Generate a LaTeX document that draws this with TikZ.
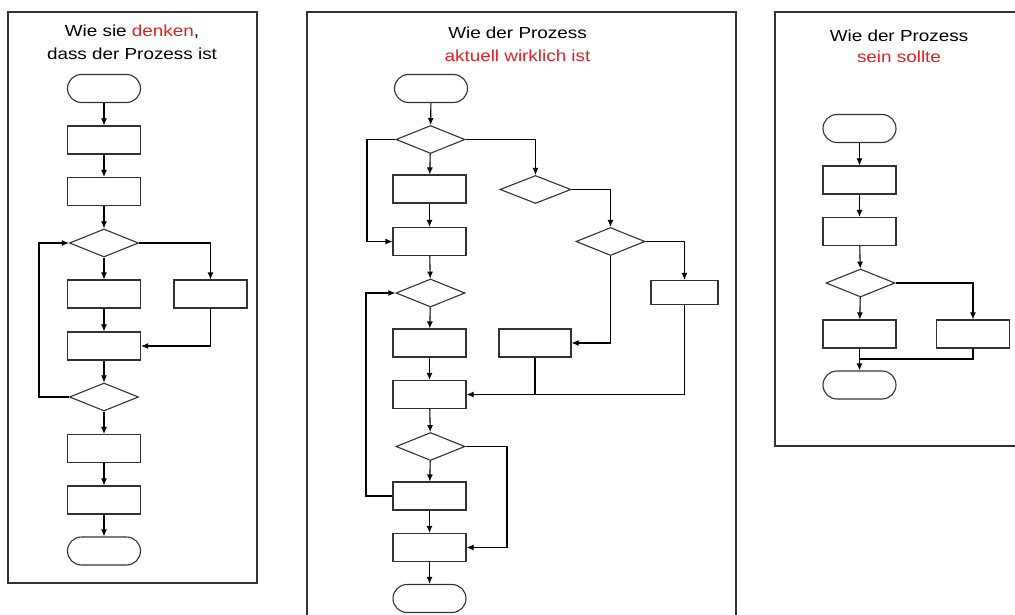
\documentclass[tikz,border=0pt]{standalone}
\usepackage{fontspec}
\setmainfont{Liberation Sans}[FakeStretch=1.18]
\usetikzlibrary{arrows.meta,shapes.geometric,shapes.misc}

\definecolor{hired}{RGB}{226,32,32}
\definecolor{lineg}{RGB}{50,50,50}

\tikzset{
    frame/.style={draw=lineg, line width=1.4pt},
    term/.style={draw=lineg, line width=1.1pt, rounded rectangle, minimum width=73pt, minimum height=28pt, inner sep=0pt},
    box/.style={draw=lineg, line width=1.1pt, rectangle, minimum width=73pt, minimum height=28pt, inner sep=0pt},
    decision/.style={draw=lineg, line width=1.1pt, diamond, minimum width=69pt, minimum height=28pt, inner sep=0pt},
    flow/.style={draw=black, line width=1.1pt, -{Latex[length=7pt,width=6pt]}},
    link/.style={draw=black, line width=1.1pt},
    heading/.style={anchor=base, font=\fontsize{16}{19}\selectfont, inner sep=0pt}
}

\begin{document}
\begin{tikzpicture}[x=1pt, y=-1pt]
    \useasboundingbox (0,0) rectangle (1015,615);

    % Frames of the three panels
    \draw[frame] (8,12) rectangle (257,583);
    \draw[frame] (307,620) -- (307,12) -- (736,12) -- (736,620);
    \draw[frame] (1020,12) -- (775,12) -- (775,446) -- (1020,446);

    % Headings
    \node[heading] (headL1) at (132,37) {Wie sie \textcolor{hired}{denken},};
    \node[heading] (headL2) at (132,60) {dass der Prozess ist};
    \node[heading] (headM1) at (517.5,39) {Wie der Prozess};
    \node[heading, text=hired] (headM2) at (517.5,62) {aktuell wirklich ist};
    \node[heading] (headR1) at (899,42) {Wie der Prozess};
    \node[heading, text=hired] (headR2) at (899,63) {sein sollte};

    % Left panel: as they think
    \node[term] (ls) at (104,88.5) {};
    \node[box] (l1) at (104,140) {};
    \node[box] (l2) at (104,191.5) {};
    \node[decision] (ld1) at (104,243) {};
    \node[box] (l3) at (104,294) {};
    \node[box] (l3r) at (210.5,294) {};
    \node[box] (l4) at (104,346) {};
    \node[decision] (ld2) at (104,397) {};
    \node[box] (l5) at (104,448.5) {};
    \node[box] (l6) at (104,500) {};
    \node[term] (le) at (104,551) {};
    \coordinate (lloop) at (39,397);

    \foreach \a/\b in {ls/l1, l1/l2, l2/ld1, ld1/l3, l3/l4, l4/ld2, ld2/l5, l5/l6, l6/le}
        \draw[flow] (\a) -- (\b);
    \draw[flow] (ld1.east) -| (l3r.north);
    \draw[flow] (l3r.south) |- (l4.east);
    \draw[flow] (ld2.west) -- (lloop) |- (ld1.west);

    % Middle panel: as it really is
    \node[term] (ms) at (431,88.5) {};
    \node[decision] (mda) at (430.5,139.5) {};
    \node[box] (mb1) at (429.5,189) {};
    \node[box] (mb2) at (429.5,241.5) {};
    \node[decision] (mdc) at (430.5,293) {};
    \node[box] (md1) at (429.5,343) {};
    \node[box] (md2) at (429.5,394.5) {};
    \node[decision] (mde) at (430.5,446.5) {};
    \node[box] (mf1) at (429.5,496) {};
    \node[box] (mf2) at (429.5,547.5) {};
    \node[term] (me) at (429.5,598.5) {};
    \node[decision, minimum width=71pt] (mdg) at (535.5,189.5) {};
    \node[decision] (mdh) at (610.5,241.5) {};
    \node[box, minimum width=67pt, minimum height=24pt] (mi) at (684.5,292.5) {};
    \node[box, minimum width=72pt] (mj) at (535,343) {};
    \coordinate (mloopa) at (367,139.5);
    \coordinate (mloopc) at (366,496);
    \coordinate (mloope) at (507,446.5);
    \coordinate (mjoin) at (535,394.5);

    \foreach \a/\b in {ms/mda, mda/mb1, mb1/mb2, mb2/mdc, mdc/md1, md1/md2, md2/mde, mde/mf1, mf1/mf2, mf2/me}
        \draw[flow] (\a) -- (\b);
    \draw[flow] (mda.west) -- (mloopa) |- (mb2.west);
    \draw[flow] (mf1.west) -- (mloopc) |- (mdc.west);
    \draw[flow] (mde.east) -- (mloope) |- (mf2.east);
    \draw[flow] (mda.east) -| (mdg.north);
    \draw[flow] (mdg.east) -| (mdh.north);
    \draw[flow] (mdh.east) -| (mi.north);
    \draw[flow] (mdh.south) |- (mj.east);
    \draw[flow] (mi.south) |- (md2.east);
    \draw[link] (mj.south) -- (mjoin);

    % Right panel: as it should be
    \node[term] (rs) at (859.5,128.5) {};
    \node[box] (r1) at (859.5,180) {};
    \node[box] (r2) at (859.5,231.5) {};
    \node[decision] (rd) at (860.5,283) {};
    \node[box] (r3) at (859.5,334) {};
    \node[box] (r3r) at (973,334) {};
    \node[term] (re) at (859.5,385) {};
    \coordinate (rjoin) at (859.5,359);

    \foreach \a/\b in {rs/r1, r1/r2, r2/rd, rd/r3, r3/re}
        \draw[flow] (\a) -- (\b);
    \draw[flow] (rd.east) -| (r3r.north);
    \draw[link] (r3r.south) |- (rjoin);
\end{tikzpicture}
\end{document}
